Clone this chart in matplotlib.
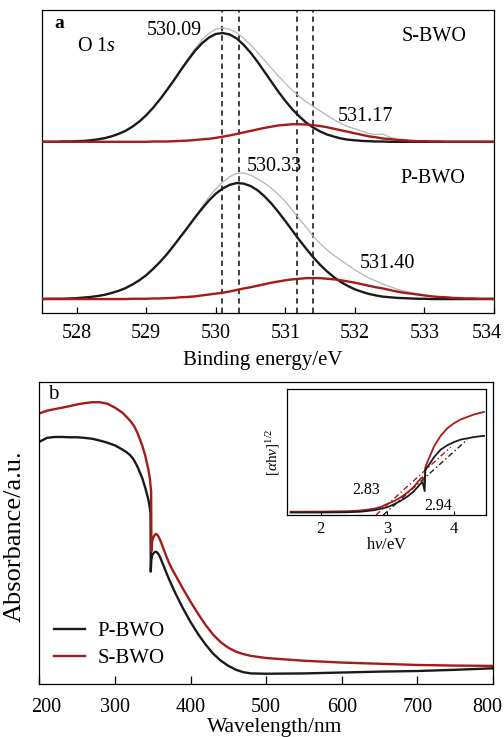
import numpy as np
import matplotlib
matplotlib.use("Agg")
import matplotlib.pyplot as plt
from matplotlib.transforms import ScaledTranslation

plt.rcParams["font.family"] = ["Liberation Serif", "DejaVu Serif"]
plt.rcParams["mathtext.fontset"] = "custom"
plt.rcParams["mathtext.rm"] = "Liberation Serif"
plt.rcParams["mathtext.it"] = "Liberation Serif:italic"

BLACK = "#1a1a1a"
RED = "#a31b1b"
GRAY = "#b5b5b5"

# ---- (a) O 1s XPS, 0.1 eV sampling from 527.5 to 534.0 eV ----
energy = np.round(np.arange(527.5, 534.01, 0.1), 2)
s_base = 0.565
s_main = [0.565,0.565,0.565,0.566,0.566,0.567,0.568,0.570,0.573,0.577,
          0.583,0.591,0.601,0.615,0.632,0.653,0.678,0.706,0.737,0.769,
          0.803,0.835,0.865,0.890,0.909,0.921,0.924,0.919,0.906,0.885,
          0.859,0.829,0.796,0.763,0.730,0.700,0.672,0.649,0.628,0.612,
          0.599,0.589,0.582,0.576,0.572,0.570,0.568,0.567,0.566,0.566,
          0.565,0.565,0.565,0.565,0.565,0.565,0.565,0.565,0.565,0.565,
          0.565,0.565,0.565,0.565,0.565,0.565]
s_minor = [0.565,0.565,0.565,0.565,0.565,0.565,0.565,0.565,0.565,0.565,
           0.565,0.565,0.565,0.565,0.565,0.565,0.566,0.566,0.566,0.567,
           0.568,0.569,0.571,0.573,0.575,0.578,0.582,0.586,0.591,0.596,
           0.601,0.606,0.611,0.615,0.619,0.621,0.623,0.623,0.622,0.620,
           0.617,0.613,0.608,0.603,0.598,0.593,0.588,0.583,0.580,0.576,
           0.574,0.571,0.570,0.568,0.567,0.567,0.566,0.566,0.565,0.565,
           0.565,0.565,0.565,0.565,0.565,0.565]
s_resid = [0,0,0,0,0,0,0,0,0,0,0,0,0,0,0,0,0,0,0,0,0,0,
           0.002,0.003,0.004,0.003,0.000,-0.004,-0.007,-0.009,-0.010,-0.010,
           -0.008,-0.005,-0.002,0.002,0.005,0.008,0.012,0.015,0.016,0.015,
           0.013,0.011,0.010,0.010,0.009,0.007,0.008,0.014,0.006,0.004,
           0.003,0.002,0.001,0,0,0,0,0,0,0,0,0,0,0]

p_base = 0.046
p_main = [0.046,0.047,0.047,0.047,0.048,0.049,0.051,0.053,0.056,0.060,
          0.066,0.073,0.082,0.094,0.108,0.125,0.146,0.169,0.195,0.224,
          0.254,0.284,0.315,0.344,0.371,0.394,0.411,0.423,0.429,0.427,
          0.419,0.405,0.385,0.361,0.333,0.303,0.272,0.241,0.212,0.184,
          0.159,0.137,0.118,0.102,0.089,0.078,0.070,0.063,0.058,0.054,
          0.052,0.050,0.049,0.048,0.047,0.047,0.046,0.046,0.046,0.046,
          0.046,0.046,0.046,0.046,0.046,0.046]
p_minor = [0.046,0.046,0.046,0.046,0.046,0.046,0.046,0.046,0.046,0.046,
           0.046,0.046,0.046,0.047,0.047,0.047,0.048,0.048,0.049,0.050,
           0.052,0.053,0.055,0.058,0.061,0.064,0.067,0.071,0.076,0.081,
           0.085,0.090,0.095,0.100,0.104,0.108,0.111,0.113,0.115,0.115,
           0.115,0.113,0.111,0.108,0.104,0.100,0.095,0.090,0.085,0.081,
           0.076,0.071,0.067,0.064,0.061,0.058,0.055,0.053,0.052,0.050,
           0.049,0.048,0.048,0.047,0.047,0.047]
p_resid = [0,0,0,0,0,0,0,0,0,0,0,0,0,0,0,0,0,0,
           -0.001,-0.002,-0.004,-0.005,-0.006,-0.006,-0.004,-0.002,0.000,0.002,
           0.002,0.000,-0.003,-0.006,-0.006,-0.003,0.000,0.003,0.002,0.003,
           0.002,0.000,0.001,0.004,0.007,0.010,0.011,0.010,0.010,0.008,
           0.009,0.007,0.006,0.004,0.003,0.002,0.001,0,0,0,0,0,0,0,0,0,0,0]

peak_marks = [530.09, 530.33, 531.17, 531.40]

# ---- (b) UV-vis absorbance ----
wl_p = [200,210,220,230,240,250,260,270,280,290,300,310,315,320,325,330,336,340,344,346,347,
        347.3,348,349,350,352,354,356,358,360,362,365,368,372,376,380,390,400,410,420,430,
        440,450,460,470,480,500,550,600,650,700,750,800]
abs_p = [0.802,0.815,0.818,0.818,0.817,0.817,0.815,0.812,0.806,0.799,0.790,0.776,0.768,
         0.758,0.742,0.718,0.682,0.650,0.612,0.585,0.565,
         0.372,0.410,0.425,0.430,0.436,0.438,0.435,0.428,0.418,0.405,0.387,0.368,0.344,
         0.322,0.300,0.250,0.205,0.165,0.130,0.100,0.077,0.060,0.047,0.039,0.035,
         0.034,0.035,0.038,0.041,0.043,0.047,0.052]
wl_s = [200,210,220,230,240,250,260,270,280,290,300,310,315,320,325,330,336,340,344,346,347.8,
        348.2,349,350,352,354,356,358,360,362,365,368,372,376,380,390,400,410,420,430,440,
        450,460,470,480,500,550,600,650,700,750,800]
abs_s = [0.896,0.905,0.910,0.915,0.920,0.926,0.930,0.933,0.933,0.928,0.915,0.898,0.885,
         0.872,0.855,0.830,0.790,0.756,0.712,0.682,0.637,
         0.440,0.470,0.480,0.492,0.497,0.494,0.486,0.475,0.462,0.442,0.422,0.398,0.378,
         0.360,0.315,0.272,0.232,0.195,0.163,0.138,0.120,0.107,0.099,0.093,0.086,
         0.077,0.071,0.067,0.063,0.061,0.060]

# inset: Tauc plot
hv_p = [1.55,2.0,2.4,2.6,2.8,2.9,3.0,3.1,3.2,3.3,3.4,3.5,3.53,3.56,3.57,3.6,3.7,3.8,
        3.9,4.0,4.1,4.2,4.3,4.45]
tauc_p = [0.020,0.020,0.022,0.026,0.038,0.050,0.062,0.085,0.113,0.146,0.190,0.250,
          0.262,0.190,0.360,0.380,0.460,0.520,0.555,0.580,0.600,0.610,0.620,0.630]
hv_s = [1.55,2.0,2.4,2.6,2.8,2.9,3.0,3.1,3.2,3.3,3.4,3.5,3.53,3.56,3.57,3.6,3.7,3.8,
        3.9,4.0,4.1,4.2,4.3,4.45]
tauc_s = [0.026,0.027,0.030,0.036,0.050,0.064,0.088,0.110,0.140,0.178,0.225,0.290,
          0.300,0.265,0.380,0.420,0.545,0.630,0.690,0.730,0.760,0.780,0.800,0.820]
tan_p_x = [2.94, 4.20]
tan_p_y = [0.0, 0.60]
tan_s_x = [2.83, 3.95]
tan_s_y = [0.0, 0.54]

fig = plt.figure(figsize=(5.04, 7.37), dpi=100)
W, H = 504.0, 737.0

# ---------- panel a ----------
ax1 = fig.add_axes([42 / W, 1 - 313 / H, 452 / W, 303 / H])
s_raw = np.array(s_main) + np.array(s_minor) - s_base + np.array(s_resid)
p_raw = np.array(p_main) + np.array(p_minor) - p_base + np.array(p_resid)
for xv in peak_marks:
    ax1.axvline(xv, color="#333333", lw=1.3, ls=(0, (3, 2.2)), zorder=1)
ax1.plot(energy, s_raw, color=GRAY, lw=0.9, zorder=2)
ax1.plot(energy, p_raw, color=GRAY, lw=0.9, zorder=2)
ax1.plot(energy, s_main, color=BLACK, lw=1.7, zorder=3)
ax1.plot(energy, p_main, color=BLACK, lw=1.7, zorder=3)
ax1.plot(energy, s_minor, color=RED, lw=1.7, zorder=4)
ax1.plot(energy, p_minor, color=RED, lw=1.7, zorder=4)
ax1.set_xlim(527.5, 534)
ax1.set_ylim(0, 1)
ax1.set_yticks([])
ax1.set_xticks([528, 529, 530, 531, 532, 533, 534])
ax1.tick_params(axis="x", direction="in", length=4, width=0.9, labelsize=14.5, pad=8)
ax1.set_xlabel("Binding energy/eV", fontsize=15)
ax1.xaxis.set_label_coords(0.488, -0.125)
for sp in ax1.spines.values():
    sp.set_linewidth(0.9)
lab = ax1.get_xticklabels()
lab[-1].set_transform(lab[-1].get_transform() + ScaledTranslation(-7 / 100, 0, fig.dpi_scale_trans))

def atext(ax, x, y, s, **kw):
    ax.text(x, y, s, transform=ax.transAxes, va="center", ha="left", **kw)

atext(ax1, 0.027, 0.954, "a", fontsize=14, fontweight="bold")
atext(ax1, 0.077, 0.879, r"O 1$\mathit{s}$", fontsize=14.5)
atext(ax1, 0.232, 0.931, "530.09", fontsize=14.5)
atext(ax1, 0.796, 0.912, "S-BWO", fontsize=14.5)
atext(ax1, 0.655, 0.647, "531.17", fontsize=14.5)
atext(ax1, 0.453, 0.483, "530.33", fontsize=14.5)
atext(ax1, 0.792, 0.445, "P-BWO", fontsize=14.5)
atext(ax1, 0.702, 0.164, "531.40", fontsize=14.5)

# ---------- panel b ----------
ax2 = fig.add_axes([39.4 / W, 1 - 684 / H, 453.6 / W, 302 / H])
ax2.plot(wl_p, abs_p, color=BLACK, lw=1.7, label="P-BWO")
ax2.plot(wl_s, abs_s, color=RED, lw=1.7, label="S-BWO")
ax2.set_xlim(200, 800)
ax2.set_ylim(0, 1)
ax2.set_yticks([])
ax2.set_xticks([200, 300, 400, 500, 600, 700, 800])
ax2.tick_params(axis="x", direction="in", length=6, width=0.9, labelsize=14.5, pad=10)
ax2.set_xlabel("Wavelength/nm", fontsize=15.5)
ax2.xaxis.set_label_coords(0.519, -0.112)
ax2.set_ylabel("Absorbance/a.u.", fontsize=19)
ax2.yaxis.set_label_coords(-0.031, 0.49)
for sp in ax2.spines.values():
    sp.set_linewidth(0.9)
lab = ax2.get_xticklabels()
lab[0].set_transform(lab[0].get_transform() + ScaledTranslation(7 / 100, 0, fig.dpi_scale_trans))
lab[-1].set_transform(lab[-1].get_transform() + ScaledTranslation(-6 / 100, 0, fig.dpi_scale_trans))
atext(ax2, 0.02, 0.957, "b", fontsize=15)
ax2.legend(loc="lower left", bbox_to_anchor=(0.0, 0.005), frameon=False, fontsize=15,
           handlelength=1.5, handletextpad=0.6, labelspacing=0.35, borderaxespad=0.3)

# ---------- inset ----------
axi = fig.add_axes([287.3 / W, 1 - 515 / H, 198.7 / W, 125.7 / H])
axi.plot(tan_s_x, tan_s_y, color=RED, lw=1.0, ls=(0, (4, 2, 1, 2)))
axi.plot(tan_p_x, tan_p_y, color=BLACK, lw=1.0, ls=(0, (4, 2, 1, 2)))
axi.plot(hv_s, tauc_s, color=RED, lw=1.3)
axi.plot(hv_p, tauc_p, color=BLACK, lw=1.3)
axi.set_xlim(1.5, 4.48)
axi.set_ylim(0, 1)
axi.set_yticks([])
axi.set_xticks([2, 3, 4])
axi.tick_params(axis="x", direction="in", length=3, width=0.8, labelsize=12, pad=4)
axi.set_xlabel(r"h$\mathit{\nu}$/eV", fontsize=12, labelpad=0)
axi.set_ylabel(r"[$\mathit{\alpha}$h$\mathit{\nu}$]$^{1/2}$", fontsize=11, labelpad=4)
for sp in axi.spines.values():
    sp.set_linewidth(0.9)
atext(axi, 0.329, 0.199, "2.83", fontsize=11.5)
atext(axi, 0.688, 0.072, "2.94", fontsize=11.5)

fig.savefig("out.png", dpi=100)
